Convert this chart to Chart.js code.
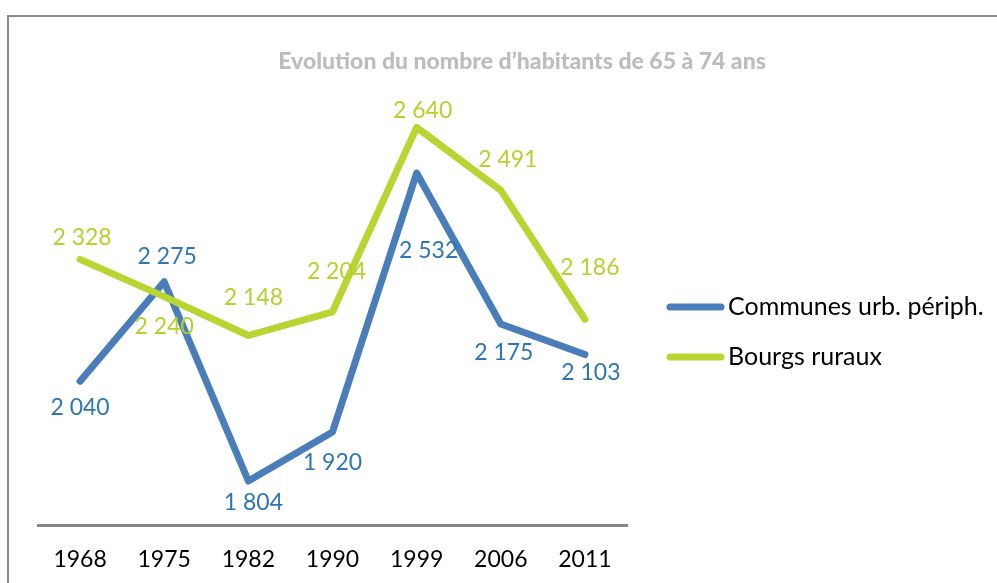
<!DOCTYPE html>
<html>
<head>
<meta charset="utf-8">
<script src="https://cdn.jsdelivr.net/npm/chart.js@4/dist/chart.umd.min.js"></script>
<style>
html,body{margin:0;padding:0;background:#fff;}
#wrap{width:997px;height:583px;position:relative;}
</style>
</head>
<body>
<div id="wrap"><canvas id="c" width="997" height="583"></canvas></div>
<script>
const categories = ['1968', '1975', '1982', '1990', '1999', '2006', '2011'];
const communesUrb = [2040, 2275, 1804, 1920, 2532, 2175, 2103];
const bourgsRuraux = [2328, 2240, 2148, 2204, 2640, 2491, 2186];
const seriesNames = ['Communes urb. périph.', 'Bourgs ruraux'];
const chartTitle = 'Evolution du nombre d\u2019habitants de 65 à 74 ans';

const BLUE = '#4a7ebb', BLUE_TXT = '#2e75b6';
const GREEN = '#b9d532', GREEN_TXT = '#b4d22e';
const FONT = 'Lato, "Open Sans", sans-serif';

// label offsets (styling, px relative to each point)
const labelOffsets = [
  [[0,26],[3,-25],[5,22],[0,31],[12,78],[3,29],[6,18]],
  [[2,-22],[0,30],[5,-38],[4,-40],[6,-17],[7,-31],[5,-52]]
];

function fmt(v){ return String(v).replace(/\B(?=(\d{3})+(?!\d))/g, ' '); }

const decor = {
  id: 'decor',
  beforeDraw(chart){
    const ctx = chart.ctx;
    ctx.save();
    ctx.strokeStyle = '#8c8c8c';
    ctx.lineWidth = 2;
    ctx.strokeRect(8, 16, 1200, 1000);
    ctx.fillStyle = '#bdbdbd';
    ctx.font = '900 23px ' + FONT;
    ctx.textAlign = 'center';
    ctx.textBaseline = 'middle';
    ctx.fillText(chartTitle, 522, 62);
    ctx.restore();
  },
  afterDatasetsDraw(chart){
    const ctx = chart.ctx;
    ctx.save();
    ctx.font = '23px ' + FONT;
    ctx.textAlign = 'center';
    ctx.textBaseline = 'middle';
    chart.data.datasets.forEach((ds, di) => {
      const meta = chart.getDatasetMeta(di);
      ctx.fillStyle = ds.labelColor;
      meta.data.forEach((pt, i) => {
        const o = labelOffsets[di][i];
        ctx.fillText(fmt(ds.data[i]), pt.x + o[0], pt.y + o[1]);
      });
    });
    // legend
    const lx0 = 667, lx1 = 724, ys = [307, 357];
    ctx.font = '25px ' + FONT;
    chart.data.datasets.forEach((ds, di) => {
      ctx.strokeStyle = ds.borderColor;
      ctx.lineWidth = 7;
      ctx.lineCap = 'round';
      ctx.beginPath();
      ctx.moveTo(lx0 + 3, ys[di]);
      ctx.lineTo(lx1 - 3, ys[di]);
      ctx.stroke();
      ctx.fillStyle = '#000';
      ctx.textAlign = 'left';
      ctx.fillText(ds.label, 728, ys[di]);
    });
    ctx.restore();
  }
};

new Chart(document.getElementById('c'), {
  type: 'line',
  data: {
    labels: categories,
    datasets: [
      { label: seriesNames[0], data: communesUrb, borderColor: BLUE, labelColor: BLUE_TXT, order: 1 },
      { label: seriesNames[1], data: bourgsRuraux, borderColor: GREEN, labelColor: GREEN_TXT, order: 0 }
    ]
  },
  options: {
    responsive: false,
    animation: false,
    devicePixelRatio: 1,
    layout: { padding: { left: 38, right: 370, top: 102, bottom: 0 } },
    elements: {
      line: { borderWidth: 7, tension: 0, borderCapStyle: 'round', borderJoinStyle: 'round', fill: false },
      point: { radius: 0, hoverRadius: 0 }
    },
    plugins: { legend: { display: false }, tooltip: { enabled: false }, title: { display: false } },
    scales: {
      x: {
        offset: true,
        grid: { display: false, drawTicks: false },
        border: { display: true, color: '#868686', width: 3 },
        ticks: { color: '#000', font: { family: FONT, size: 23 }, padding: 21 },
        afterFit(scale){ scale.height = 58; }
      },
      y: {
        display: false,
        min: 1700,
        max: 2700
      }
    }
  },
  plugins: [decor]
});
</script>
</body>
</html>
